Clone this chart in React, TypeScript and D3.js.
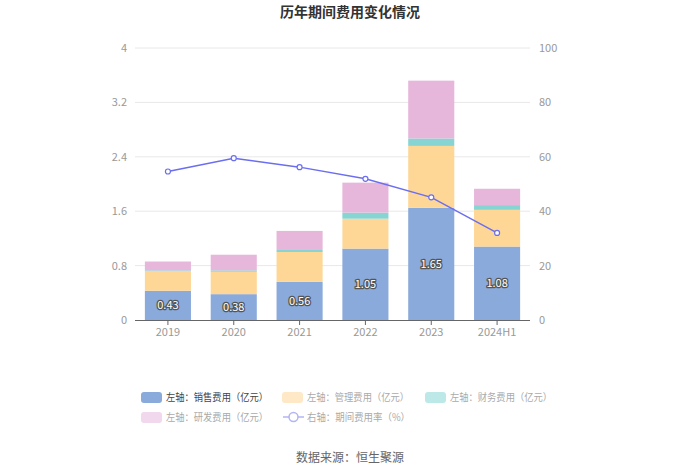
import React from "react";
import * as d3 from "d3";

const categories = ["2019", "2020", "2021", "2022", "2023", "2024H1"];
const sales = [0.43, 0.38, 0.56, 1.05, 1.65, 1.08];
const mgmt = [0.29, 0.33, 0.44, 0.44, 0.91, 0.54];
const finance = [0.01, 0.02, 0.03, 0.09, 0.11, 0.07];
const rnd = [0.13, 0.23, 0.28, 0.44, 0.85, 0.24];
const rate = [54.6, 59.5, 56.2, 51.9, 45.1, 32.0];
const leftTicks = [0, 0.8, 1.6, 2.4, 3.2, 4];
const rightTicks = [0, 20, 40, 60, 80, 100];
const seriesNames = [
  "左轴：销售费用（亿元）",
  "左轴：管理费用（亿元）",
  "左轴：财务费用（亿元）",
  "左轴：研发费用（亿元）",
];
const lineName = "右轴：期间费用率（%）";
const colors = ["#8aaadb", "#fed796", "#86d5d3", "#e6b7db"];
const fadedColors = ["#8aaadb", "#fee8c6", "#bde8e8", "#f1d8ed"];
const lineColor = "#6b6ef0";
const FONT = "'Microsoft YaHei', 'Noto Sans CJK SC', sans-serif";

export default function App() {
  const W = 700, H = 474;
  const left = 135, right = 530, top = 48, bottom = 320;
  const x = d3.scaleBand<string>().domain(categories).range([left, right]).paddingInner(0.3).paddingOuter(0.15);
  const yL = d3.scaleLinear().domain([0, 4]).range([bottom, top]);
  const yR = d3.scaleLinear().domain([0, 100]).range([bottom, top]);
  const band = d3.scaleBand<string>().domain(categories).range([left, right]);

  const stackData = categories.map((c, i) => ({ c, s0: sales[i], s1: mgmt[i], s2: finance[i], s3: rnd[i] }));
  const stack = d3.stack<any>().keys(["s0", "s1", "s2", "s3"])(stackData);

  const line = d3.line<number>()
    .x((_, i) => (band(categories[i]) as number) + band.bandwidth() / 2)
    .y((d) => yR(d));

  const legendItems = [
    { x: 141, y: 397, i: 0 },
    { x: 282, y: 397, i: 1 },
    { x: 425, y: 397, i: 2 },
    { x: 141, y: 417, i: 3 },
  ];

  return (
    <svg width={W} height={H} style={{ display: "block", position: "absolute", left: 0, top: 0, fontFamily: FONT }}>
      <rect width={W} height={H} fill="#fff" />
      <text x={350} y={17} textAnchor="middle" fontSize={14} fontWeight="bold" fill="#333">历年期间费用变化情况</text>

      {leftTicks.map((t) => (
        <g key={t}>
          {t !== 0 && <line x1={left} x2={right} y1={yL(t)} y2={yL(t)} stroke="#e8e8e8" />}
          <text x={127} y={yL(t) + 4} textAnchor="end" fontSize={11} fill="#999">{t}</text>
        </g>
      ))}
      {rightTicks.map((t) => (
        <text key={t} x={539} y={yR(t) + 4} textAnchor="start" fontSize={11} fill="#999">{t}</text>
      ))}

      {stack.map((layer, li) => (
        <g key={li}>
          {layer.map((d, i) => (
            <rect key={i} x={x(categories[i])} width={x.bandwidth()} y={yL(d[1])} height={Math.max(0, yL(d[0]) - yL(d[1]))} fill={colors[li]} />
          ))}
        </g>
      ))}

      <line x1={left} x2={right} y1={bottom + 0.5} y2={bottom + 0.5} stroke="#666" />
      {categories.map((c) => {
        const cx = (band(c) as number) + band.bandwidth() / 2;
        return (
          <g key={c}>
            <line x1={cx} x2={cx} y1={bottom} y2={bottom + 5} stroke="#666" />
            <text x={cx} y={bottom + 16} textAnchor="middle" fontSize={11} fill="#999">{c}</text>
          </g>
        );
      })}

      {sales.map((v, i) => {
        const cx = (band(categories[i]) as number) + band.bandwidth() / 2;
        const cy = (yL(0) + yL(v)) / 2 + 4;
        return (
          <text key={i} x={cx} y={cy} textAnchor="middle" fontSize={11} fill="#fff" stroke="#555" strokeWidth={2.5} paintOrder="stroke" strokeLinejoin="round">{v.toFixed(2)}</text>
        );
      })}

      <path d={line(rate) || ""} fill="none" stroke={lineColor} strokeWidth={1.5} />
      {rate.map((v, i) => (
        <circle key={i} cx={(band(categories[i]) as number) + band.bandwidth() / 2} cy={yR(v)} r={2.5} fill="#fff" stroke={lineColor} strokeWidth={1.2} />
      ))}

      {legendItems.map(({ x: lx, y: ly, i }) => (
        <g key={i}>
          <rect x={lx} y={ly - 5} width={21} height={11} rx={3} fill={fadedColors[i]} />
          <text x={lx + 25} y={ly + 4} fontSize={10} textLength={102} lengthAdjust="spacingAndGlyphs" fill={i === 0 ? "#444" : "#aaa"}>{seriesNames[i]}</text>
        </g>
      ))}
      <g>
        <line x1={283} x2={304} y1={417} y2={417} stroke="#b3b5f5" strokeWidth={1.5} />
        <circle cx={293.5} cy={417} r={4.5} fill="#fff" stroke="#b3b5f5" strokeWidth={1.5} />
        <text x={307} y={421} fontSize={10} textLength={103} lengthAdjust="spacingAndGlyphs" fill="#aaa">{lineName}</text>
      </g>

      <text x={350} y={462} textAnchor="middle" fontSize={12} fill="#666">数据来源：恒生聚源</text>
    </svg>
  );
}
